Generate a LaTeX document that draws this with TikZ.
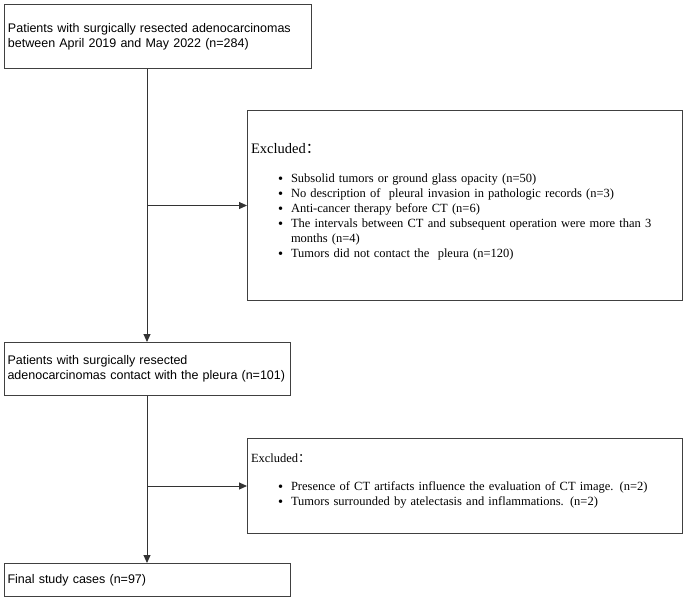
\documentclass[tikz,border=0pt]{standalone}
\usepackage{fontspec}
\setmainfont{Liberation Serif}
\setsansfont{Liberation Sans}
\newfontfamily\cjkfont{Noto Sans CJK SC}
\usetikzlibrary{arrows.meta}
\tikzset{
  mainbox/.style={draw=black!75, line width=1pt, anchor=north west, inner sep=3pt,
    font=\sffamily\fontsize{12.5}{15}\selectfont, align=left},
  exbox/.style={draw=black!75, line width=1pt, anchor=north west, inner sep=3pt,
    font=\fontsize{12.5}{15}\selectfont, align=left},
  arr/.style={draw=black!80, line width=1pt, -{Triangle[length=8pt,width=7pt]}},
}
\newcommand{\cjcolon}{{\cjkfont ：}}
\newcommand{\bul}{\makebox[13pt][l]{\raisebox{-1pt}{\Large\textbullet}}}
\begin{document}
\begin{tikzpicture}[x=1pt,y=-1pt]
\useasboundingbox (0,0) rectangle (685,600);
\node[mainbox, minimum width=307pt, minimum height=64pt, text width=300pt] (b1) at (4,4)
  {Patients with surgically resected adenocarcinomas\\between April 2019 and May 2022 (n=284)};
\node[exbox, minimum width=435pt, minimum height=190pt, text width=428pt] (ex1) at (247,110)
  {{\fontsize{14.5}{17}\selectfont Excluded\cjcolon}\\[17pt]
   \hspace*{27pt}\begin{tabular}{@{}l@{}l@{}}
   \bul & Subsolid tumors or ground glass opacity (n=50)\\
   \bul & No description of\ \ pleural invasion in pathologic records (n=3)\\
   \bul & Anti-cancer therapy before CT (n=6)\\
   \bul & The intervals between CT and subsequent operation were more than 3\\
        & months (n=4)\\
   \bul & Tumors did not contact the\ \ pleura (n=120)
   \end{tabular}\\[5pt]\null};
\node[mainbox, minimum width=286pt, minimum height=53pt, text width=280pt] (b2) at (4,342)
  {Patients with surgically resected\\adenocarcinomas contact with the pleura (n=101)};
\node[exbox, minimum width=435pt, minimum height=95pt, text width=428pt] (ex2) at (247,438)
  {Excluded\cjcolon\\[16pt]
   \hspace*{27pt}\begin{tabular}{@{}l@{}l@{}}
   \bul & Presence of CT artifacts influence the evaluation of CT image. (n=2)\\
   \bul & Tumors surrounded by atelectasis and inflammations. (n=2)
   \end{tabular}\\[5pt]\null};
\node[mainbox, minimum width=286pt, minimum height=33pt, text width=280pt] (b3) at (4,563)
  {Final study cases (n=97)};
\coordinate (trunk) at (147,0);
\draw[arr] (b1.south -| trunk) -- (b2.north -| trunk);
\draw[arr] (trunk |- ex1.west) -- (ex1.west);
\draw[arr] (b2.south -| trunk) -- (b3.north -| trunk);
\draw[arr] (trunk |- ex2.west) -- (ex2.west);
\end{tikzpicture}
\end{document}
